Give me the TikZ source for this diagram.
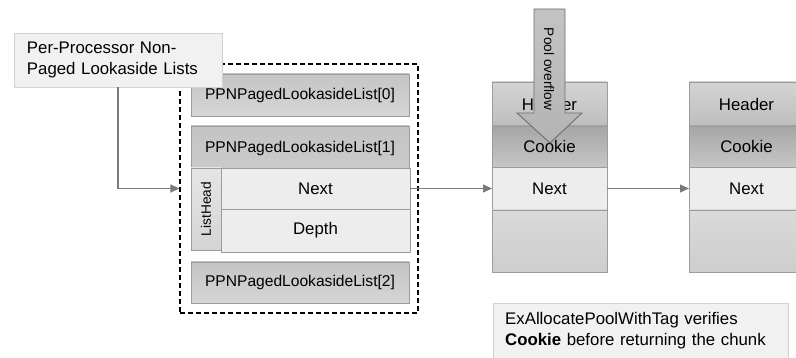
\documentclass[tikz,border=0pt]{standalone}
\usepackage{fontspec}
\setmainfont{Liberation Sans}
\usetikzlibrary{shadows,arrows.meta}

\definecolor{edgegray}{HTML}{9C9C9C}
\definecolor{hdrtop}{HTML}{D4D4D4}
\definecolor{hdrbot}{HTML}{BEBEBE}
\definecolor{cktop}{HTML}{A6A6A6}
\definecolor{ckbot}{HTML}{C6C6C6}
\definecolor{nextfill}{HTML}{EDEDED}
\definecolor{bodytop}{HTML}{DADADA}
\definecolor{bodybot}{HTML}{CDCDCD}
\definecolor{ppntop}{HTML}{C4C4C4}
\definecolor{ppnbot}{HTML}{D6D6D6}
\definecolor{notefill}{HTML}{F1F1F1}
\definecolor{notegray}{HTML}{D2D2D2}
\definecolor{linkgray}{HTML}{7A7A7A}
\definecolor{ovfill}{HTML}{B4B4B4}
\definecolor{ovedge}{HTML}{6E6E6E}

\tikzset{
  cellbox/.style={draw=edgegray, line width=0.9pt, inner sep=0pt, outer sep=0pt},
  hdrcell/.style={cellbox, top color=hdrtop, bottom color=hdrbot},
  ckcell/.style={cellbox, top color=cktop, bottom color=ckbot},
  nxtcell/.style={cellbox, fill=nextfill},
  bodycell/.style={cellbox, top color=bodytop, bottom color=bodybot},
  ppnbox/.style={cellbox, top color=ppntop, bottom color=ppnbot,
    drop shadow={opacity=0.25, shadow xshift=1pt, shadow yshift=-1.5pt}},
  shadowed/.style={drop shadow={opacity=0.25, shadow xshift=1pt, shadow yshift=-1.5pt}},
  notebox/.style={draw=notegray, line width=0.8pt, fill=notefill, inner sep=0pt,
    drop shadow={opacity=0.25, shadow xshift=1pt, shadow yshift=-1.5pt}},
  link/.style={draw=linkgray, line width=1.2pt, -{Triangle[length=9pt,width=8pt]}},
  big/.style={font=\fontsize{16.8}{21}\selectfont},
  mid/.style={font=\fontsize{15.6}{19}\selectfont},
  small/.style={font=\fontsize{13.7}{16}\selectfont},
}

\begin{document}
\begin{tikzpicture}[x=1pt, y=-1pt]
\useasboundingbox (0,0) rectangle (796,358);
\clip (0,0) rectangle (796,358);

% dashed frame around the lookaside list array
\node[draw=black, dashed, dash pattern=on 5pt off 3pt, line width=1.2pt, inner sep=0pt,
  minimum width=238pt, minimum height=249pt] (frame) at (299,188.5) {};

% array entries
\node[ppnbox, mid, minimum width=218pt, minimum height=42pt] (ppn0) at (300,95) {PPNPagedLookasideList[0]};
\node[ppnbox, minimum width=218pt, minimum height=124pt] (ppn1) at (300,188) {};
\node[mid] (ppn1t) at (300,148) {PPNPagedLookasideList[1]};
\node[cellbox, top color=hdrtop!60!white, bottom color=hdrtop, minimum width=30pt, minimum height=82pt] (lhcol) at (206,209) {};
\node[small, rotate=90] (lht) at (206,209) {ListHead};
\node[nxtcell, shadowed, minimum width=189pt, minimum height=84pt] (lhbox) at (315.5,210) {};
\node[big, nxtcell, minimum width=189pt, minimum height=41pt] (lhnext) at (315.5,188.5) {Next};
\node[big, nxtcell, minimum width=189pt, minimum height=43pt] (lhdepth) at (315.5,230.5) {Depth};
\node[ppnbox, mid, minimum width=218pt, minimum height=41pt] (ppn2) at (300,282.5) {PPNPagedLookasideList[2]};

% caption for the per-processor lists, lying over the frame corner
\node[notebox, big, minimum width=208pt, minimum height=54pt, text width=182pt, align=left]
  (lbl) at (118,60) {Per-Processor Non-\\Paged Lookaside Lists};

% first pool chunk
\node[cellbox, shadowed, fill=bodybot, minimum width=115pt, minimum height=190pt] (c1) at (549.5,177) {};
\node[hdrcell, big, minimum width=115pt, minimum height=44pt] (c1h) at (549.5,104) {Header};
\node[ckcell, big, minimum width=115pt, minimum height=41pt] (c1c) at (549.5,146.5) {Cookie};
\node[nxtcell, big, minimum width=115pt, minimum height=43pt] (c1n) at (549.5,188.5) {Next};
\node[bodycell, minimum width=115pt, minimum height=62pt] (c1b) at (549.5,241) {};

% second pool chunk
\node[cellbox, shadowed, fill=bodybot, minimum width=115pt, minimum height=190pt] (c2) at (746.5,177) {};
\node[hdrcell, big, minimum width=115pt, minimum height=44pt] (c2h) at (746.5,104) {Header};
\node[ckcell, big, minimum width=115pt, minimum height=41pt] (c2c) at (746.5,146.5) {Cookie};
\node[nxtcell, big, minimum width=115pt, minimum height=43pt] (c2n) at (746.5,188.5) {Next};
\node[bodycell, minimum width=115pt, minimum height=62pt] (c2b) at (746.5,241) {};

% list links
\draw[link] (lbl.south) |- (frame.west);
\draw[link] (lhnext.east) -- (c1n.west);
\draw[link] (c1n.east) -- (c2n.west);

% overflow arrow hitting the first chunk's cookie
\draw[draw=ovedge, line width=0.9pt, top color=ovfill!80!white, bottom color=ovfill]
  (534,9) -- (565,9) -- (565,113) -- (582,113) -- (550,143) -- (517,113) -- (534,113) -- cycle;
\node[small, rotate=-90] (ovt) at (549,69) {Pool overflow};

% note on cookie verification
\node[notebox, big, minimum width=295pt, minimum height=70pt, anchor=north west]
  (note) at (493,303) {};
\node[big, anchor=north west, text width=280pt, align=left, inner sep=0pt] (notet) at (505,312)
  {ExAllocatePoolWithTag verifies\\\textbf{Cookie} before returning the chunk};
\end{tikzpicture}
\end{document}
